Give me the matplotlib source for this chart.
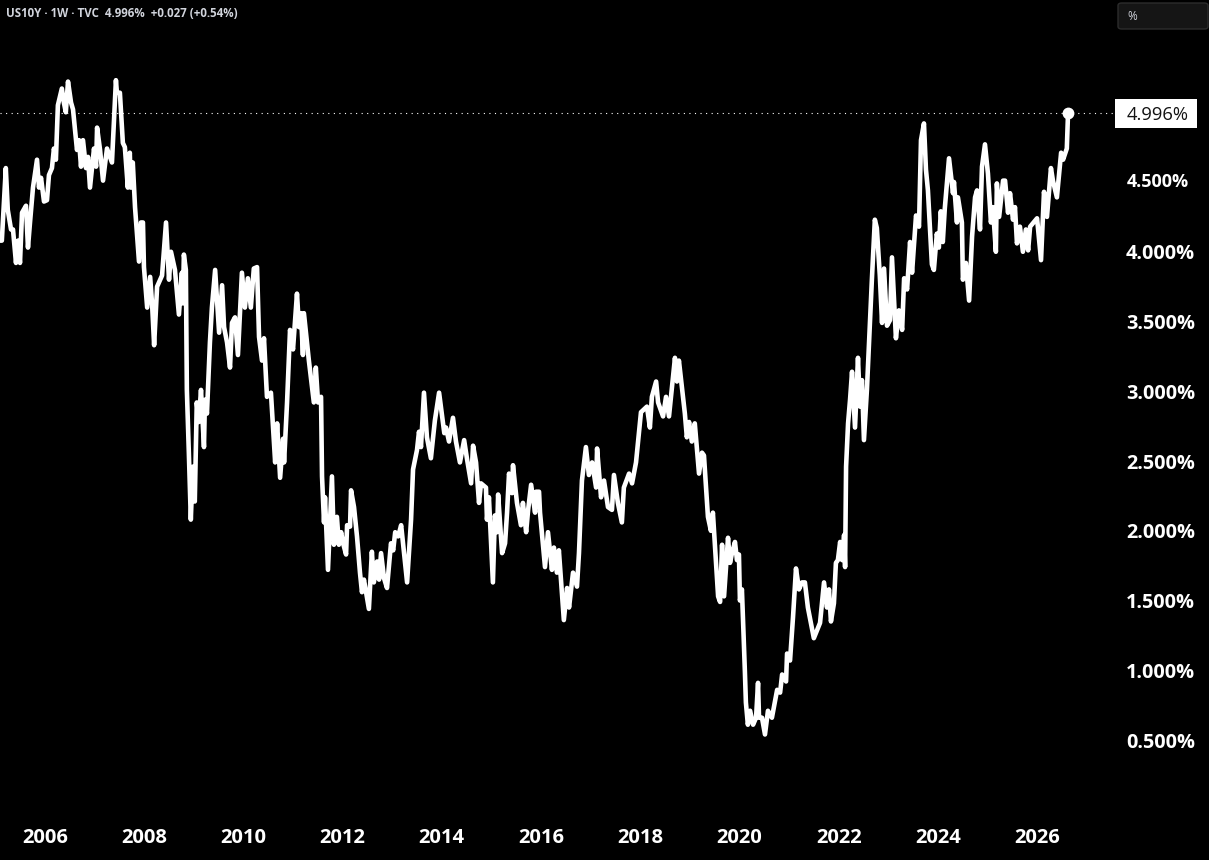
import matplotlib
matplotlib.use("Agg")
import matplotlib.pyplot as plt
from matplotlib.patches import FancyBboxPatch, Rectangle
from matplotlib.transforms import blended_transform_factory

years = [
2005.09,2005.13,2005.21,2005.25,2005.315,2005.355,2005.415,2005.456,2005.496,2005.537,2005.617,2005.657,2005.698,2005.758,2005.839,2005.879,2005.92,2005.98,
2006.04,2006.08,2006.14,2006.18,2006.22,2006.26,2006.34,2006.38,2006.42,2006.464,2006.525,2006.565,2006.645,2006.686,2006.726,2006.766,2006.827,2006.867,2006.907,2006.988,
2007.03,2007.05,2007.11,2007.17,2007.25,2007.35,2007.43,2007.45,2007.51,2007.57,2007.61,2007.67,2007.71,2007.73,2007.77,2007.815,2007.895,2007.935,2007.975,2007.995,
2008.06,2008.12,2008.16,2008.2,2008.26,2008.36,2008.44,2008.5,2008.54,2008.62,2008.70,2008.76,2008.78,2008.80,2008.84,2008.86,2008.90,2008.94,2008.98,
2009.02,2009.06,2009.10,2009.145,2009.205,2009.225,2009.265,2009.325,2009.365,2009.43,2009.51,2009.57,2009.61,2009.67,2009.73,2009.77,2009.83,2009.89,2009.97,
2010.03,2010.09,2010.15,2010.21,2010.275,2010.315,2010.375,2010.415,2010.475,2010.555,2010.64,2010.68,2010.74,2010.80,2010.82,2010.88,2010.94,
2011.0,2011.08,2011.12,2011.16,2011.2,2011.22,2011.32,2011.42,2011.46,2011.505,2011.565,2011.585,2011.625,2011.645,2011.705,2011.785,2011.825,2011.885,2011.925,2011.97,
2012.01,2012.07,2012.09,2012.15,2012.17,2012.23,2012.29,2012.35,2012.39,2012.43,2012.53,2012.59,2012.63,2012.695,2012.735,2012.775,2012.835,2012.895,2012.975,
2013.02,2013.06,2013.12,2013.18,2013.30,2013.38,2013.42,2013.50,2013.54,2013.58,2013.64,2013.70,2013.78,2013.86,2013.945,
2014.05,2014.085,2014.145,2014.225,2014.285,2014.365,2014.45,2014.51,2014.59,2014.63,2014.69,2014.75,2014.79,2014.89,2014.91,2014.95,
2015.03,2015.07,2015.115,2015.135,2015.215,2015.275,2015.315,2015.355,2015.415,2015.435,2015.515,2015.595,2015.635,2015.70,2015.74,2015.80,2015.88,2015.90,2015.96,2015.98,
2016.08,2016.14,2016.22,2016.26,2016.32,2016.36,2016.46,2016.525,2016.565,2016.645,2016.725,2016.765,2016.825,2016.905,2016.965,
2017.03,2017.11,2017.13,2017.21,2017.27,2017.35,2017.43,2017.47,2017.55,2017.63,2017.67,2017.775,2017.835,2017.915,
2018.015,2018.135,2018.195,2018.235,2018.32,2018.36,2018.46,2018.52,2018.58,2018.70,2018.74,2018.78,2018.90,2018.94,2018.985,
2019.04,2019.10,2019.185,2019.245,2019.285,2019.365,2019.425,2019.465,2019.57,2019.61,2019.65,2019.69,2019.77,2019.81,2019.85,2019.91,2019.95,2019.99,
2020.01,2020.05,2020.11,2020.13,2020.17,2020.215,2020.275,2020.335,2020.375,2020.395,2020.455,2020.515,2020.575,2020.655,2020.76,2020.82,2020.86,2020.94,2020.96,
2021.02,2021.08,2021.14,2021.2,2021.26,2021.32,2021.38,2021.50,2021.625,2021.705,2021.765,2021.805,2021.845,2021.905,2021.945,2021.985,
2022.03,2022.07,2022.11,2022.13,2022.15,2022.19,2022.23,2022.27,2022.33,2022.39,2022.43,2022.47,2022.51,2022.57,2022.67,2022.73,2022.77,2022.83,2022.875,2022.915,2022.975,
2023.035,2023.075,2023.155,2023.215,2023.28,2023.32,2023.38,2023.44,2023.48,2023.56,2023.62,2023.66,2023.72,2023.76,2023.80,2023.88,2023.92,2023.98,
2024.02,2024.06,2024.10,2024.14,2024.225,2024.305,2024.325,2024.385,2024.405,2024.485,2024.505,2024.565,2024.63,2024.69,2024.75,2024.79,2024.85,2024.89,2024.95,
2025.01,2025.07,2025.11,2025.17,2025.19,2025.235,2025.315,2025.355,2025.415,2025.455,2025.515,2025.555,2025.595,2025.655,2025.715,2025.775,2025.82,2025.86,
2026.0,2026.08,2026.14,2026.20,2026.28,2026.32,2026.40,2026.485,2026.525,2026.60,2026.625,
]
yields = [
4.08,4.08,4.60,4.30,4.16,4.16,3.92,4.08,3.92,4.28,4.33,4.03,4.21,4.46,4.66,4.46,4.53,4.36,
4.37,4.55,4.60,4.74,4.66,5.05,5.17,5.07,5.00,5.22,5.07,5.02,4.73,4.80,4.61,4.80,4.60,4.68,4.46,4.74,
4.61,4.89,4.73,4.51,4.74,4.64,5.23,5.14,5.14,4.78,4.75,4.46,4.71,4.46,4.64,4.32,3.93,4.21,4.21,3.89,
3.60,3.82,3.62,3.33,3.75,3.83,4.21,3.80,4.00,3.87,3.55,3.85,3.63,3.98,3.87,3.01,2.56,2.08,2.46,
2.21,2.92,2.78,3.01,2.60,2.94,2.84,3.35,3.60,3.87,3.42,3.76,3.46,3.35,3.17,3.49,3.53,3.26,3.85,
3.60,3.81,3.60,3.88,3.89,3.39,3.22,3.38,2.96,2.99,2.49,2.77,2.38,2.66,2.49,2.92,3.44,
3.30,3.70,3.46,3.56,3.26,3.56,3.22,2.92,3.17,2.92,2.96,2.39,2.06,2.24,1.72,2.39,1.90,2.10,1.90,1.99,
1.91,1.83,2.04,2.03,2.29,2.17,1.96,1.70,1.56,1.65,1.44,1.85,1.63,1.78,1.65,1.84,1.66,1.59,1.91,
1.86,1.99,1.96,2.04,1.63,2.08,2.44,2.58,2.71,2.60,2.99,2.67,2.52,2.79,2.99,
2.70,2.74,2.64,2.81,2.64,2.49,2.65,2.51,2.34,2.61,2.49,2.20,2.34,2.31,2.08,2.24,
1.63,2.11,1.99,2.26,1.84,1.91,2.13,2.41,2.27,2.47,2.20,2.04,2.20,1.99,2.15,2.33,2.13,2.28,2.28,2.13,
1.74,1.99,1.72,1.88,1.70,1.86,1.36,1.59,1.45,1.70,1.60,1.84,2.36,2.60,2.40,
2.49,2.31,2.59,2.24,2.36,2.17,2.15,2.40,2.20,2.06,2.31,2.41,2.34,2.49,
2.85,2.89,2.74,2.96,3.07,2.92,2.82,2.96,2.82,3.24,3.07,3.22,2.84,2.67,2.78,
2.64,2.77,2.41,2.56,2.54,2.10,2.00,2.13,1.53,1.49,1.90,1.53,1.95,1.77,1.84,1.92,1.79,1.83,
1.50,1.58,0.99,0.77,0.61,0.71,0.61,0.66,0.91,0.66,0.66,0.54,0.71,0.66,0.86,0.84,0.97,0.92,1.12,
1.07,1.38,1.73,1.58,1.63,1.63,1.45,1.23,1.34,1.63,1.45,1.58,1.35,1.48,1.77,1.79,
1.92,1.79,1.97,1.74,2.46,2.77,2.94,3.14,2.74,3.24,2.89,3.08,2.65,3.01,3.80,4.23,4.17,3.83,3.49,3.88,3.47,
3.51,3.96,3.38,3.58,3.44,3.81,3.73,4.07,3.85,4.26,4.18,4.80,4.92,4.59,4.44,3.91,3.87,4.13,
4.03,4.29,4.07,4.31,4.67,4.42,4.50,4.21,4.39,4.21,3.80,3.92,3.65,4.11,4.39,4.44,4.16,4.61,4.77,
4.56,4.21,4.32,4.00,4.49,4.25,4.51,4.51,4.28,4.42,4.23,4.32,4.06,4.18,4.00,4.16,4.01,4.18,
4.24,3.94,4.43,4.25,4.60,4.51,4.39,4.71,4.66,4.74,4.996,
]
year_ticks = [2006, 2008, 2010, 2012, 2014, 2016, 2018, 2020, 2022, 2024, 2026]
pct_ticks = [0.5, 1.0, 1.5, 2.0, 2.5, 3.0, 3.5, 4.0]
pct_small = 4.5
last_label = "4.996%"
header = "US10Y · 1W · TVC  4.996%  +0.027 (+0.54%)"

W, H = 1209, 860
FONT = "Open Sans"
fig = plt.figure(figsize=(W / 100, H / 100), dpi=100, facecolor="black")
ax = fig.add_axes([0, 0, 1, 1], facecolor="black")
ax.set_xlim(2005.093, 2005.093 + W * 0.02016)
ax.set_ylim(5.8047 - H * 0.007168, 5.8047)
for s in ax.spines.values():
    s.set_visible(False)

ax.set_xticks(year_ticks)
ax.set_xticklabels([str(y) for y in year_ticks], fontsize=14.5, fontweight="bold",
                   color="white", family=FONT)
ax.tick_params(axis="x", length=0, direction="in", pad=-23)
ax.yaxis.tick_right()
ax.set_yticks(pct_ticks)
ax.set_yticklabels([f"{v:.3f}%" for v in pct_ticks], fontsize=14.3, fontweight="bold",
                   color="white", family=FONT, ha="right")
ax.tick_params(axis="y", length=0, direction="in", pad=-10)

px_y = blended_transform_factory(fig.transFigure, ax.transData)
last_v = yields[-1]
ax.plot([0, 1113 / W], [last_v, last_v], transform=px_y, color="white", lw=0.8,
        ls=(0, (1, 4)), zorder=1)
ax.plot(years, yields, color="white", lw=3.3, solid_joinstyle="round",
        solid_capstyle="round", zorder=3)
ax.plot(years[-1], last_v, "o", color="white", ms=8.5, mew=0, zorder=4)

ax.text(1189 / W, pct_small, f"{pct_small:.3f}%", transform=px_y, ha="right",
        va="center", fontsize=13, fontweight="bold", color="white", family=FONT)

fig.add_artist(Rectangle((1115 / W, 1 - 128 / H), 82 / W, 29 / H, transform=fig.transFigure,
                         facecolor="white", edgecolor="none", zorder=5))
fig.text(1189 / W, 1 - 114.5 / H, last_label, ha="right", va="center", fontsize=13.2,
         color="#131313", family=FONT, zorder=6)

fig.add_artist(FancyBboxPatch((1118 / W, 1 - 29 / H), 90 / W, 26 / H,
                              boxstyle="round,pad=0,rounding_size=0.003",
                              transform=fig.transFigure, facecolor="#151515",
                              edgecolor="#2c2c2c", lw=1))
fig.text(1127 / W, 1 - 16.5 / H, "%", ha="left", va="center", fontsize=8.5,
         color="#d1d4dc", family=FONT)
fig.text(6 / W, 1 - 13.5 / H, header, ha="left", va="center", fontsize=8.3,
         fontweight="bold", color="#d1d4dc", family=FONT)

fig.savefig("out.png", dpi=100, facecolor="black")
